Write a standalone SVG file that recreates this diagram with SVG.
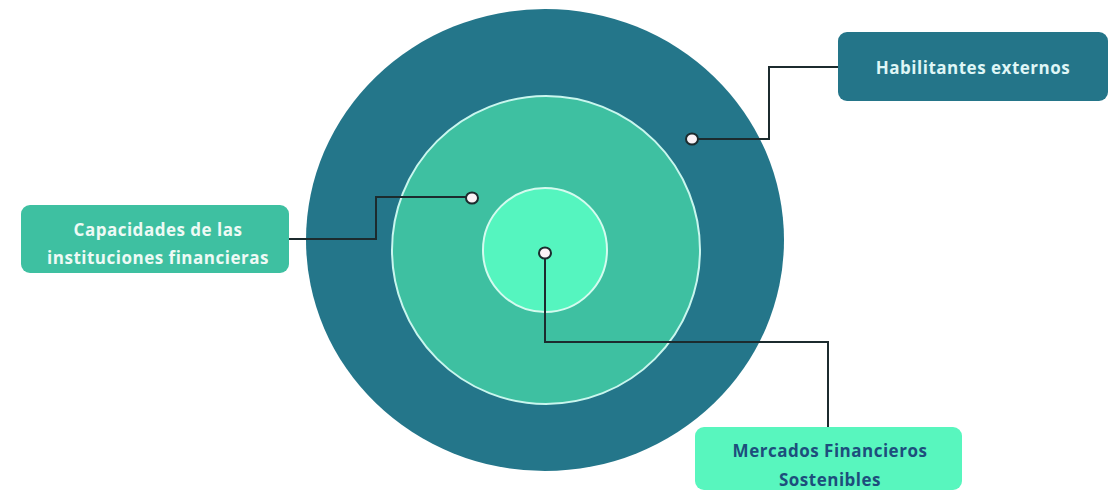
<svg xmlns="http://www.w3.org/2000/svg" width="1109" height="493" viewBox="0 0 1109 493">
<style>
.lbl{font-family:"Open Sans","DejaVu Sans",sans-serif;font-weight:700;font-size:17px;letter-spacing:0.5px;text-anchor:middle}
.con{fill:none;stroke:#1c2b2e;stroke-width:2}
.dot{fill:#fbf2f6;stroke:#1c2b2e;stroke-width:2}
</style>
<rect width="1109" height="493" fill="#ffffff"/>
<g id="rings">
<ellipse cx="545" cy="240" rx="239" ry="231" fill="#24768a"/>
<circle cx="546" cy="250" r="154" fill="#3ec0a1" stroke="#c9f6ee" stroke-width="2"/>
<circle cx="545" cy="250" r="62" fill="#55f5bf" stroke="#d4fbef" stroke-width="2"/>
</g>
<g id="connectors">
<polyline class="con" points="692,139 769,139 769,67 838,67"/>
<polyline class="con" points="289,239 376,239 376,197 468,197"/>
<polyline class="con" points="545,252 545,342 828,342 828,427"/>
<ellipse class="dot" cx="692" cy="139" rx="6" ry="5.5"/>
<ellipse class="dot" cx="472" cy="198" rx="6" ry="5.5"/>
<ellipse class="dot" cx="545" cy="253" rx="6" ry="5.5"/>
</g>
<g id="habilitantes">
<rect x="838" y="32" width="270" height="69" rx="9" fill="#247589"/>
<text class="lbl" x="973" y="74" fill="#dff6f6">Habilitantes externos</text>
</g>
<g id="capacidades">
<rect x="21" y="205" width="268" height="68" rx="9" fill="#3ec0a1"/>
<text class="lbl" x="158" y="236" fill="#eefaf5">Capacidades de las</text>
<text class="lbl" x="158" y="264" fill="#eefaf5">instituciones financieras</text>
</g>
<g id="mercados">
<rect x="695" y="427" width="267" height="63" rx="9" fill="#58f6be"/>
<text class="lbl" x="830" y="457" fill="#1d4e7c">Mercados Financieros</text>
<text class="lbl" x="830" y="486" fill="#1d4e7c">Sostenibles</text>
</g>
</svg>
